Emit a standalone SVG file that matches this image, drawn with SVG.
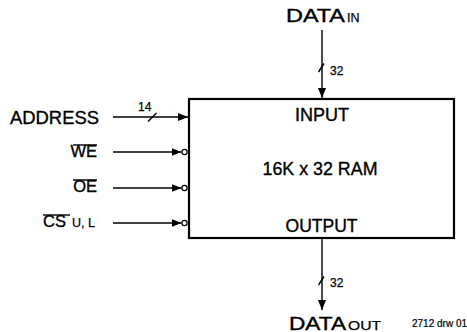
<svg xmlns="http://www.w3.org/2000/svg" width="467" height="332" viewBox="0 0 467 332">
<style>
text{font-family:"Liberation Sans",Arial,sans-serif;fill:#000;stroke:#000;stroke-width:0.35}
.big{font-size:17.5px}
.mid{font-size:16.5px}
.sm{font-size:12px;stroke-width:0.25}
.sub{font-size:12.5px;stroke-width:0.25}
.tiny{font-size:10px;stroke-width:0.2}
.ln{stroke:#000;stroke-width:1.4;fill:none}
.bub{stroke:#000;stroke-width:1.2;fill:#fff}
</style>
<defs>
<marker id="ah" viewBox="0 0 10 8" refX="10" refY="4" markerWidth="10" markerHeight="8" markerUnits="userSpaceOnUse" orient="auto">
<path d="M0,0 L10,4 L0,8 Z" fill="#000"/>
</marker>
</defs>
<g id="ram">
<rect x="189" y="99" width="265" height="139" fill="#fff" stroke="#000" stroke-width="2.2"/>
<text class="big" x="295" y="121" textLength="54" lengthAdjust="spacingAndGlyphs">INPUT</text>
<text class="big" x="262.5" y="175" textLength="115" lengthAdjust="spacingAndGlyphs">16K x 32 RAM</text>
<text class="big" x="321.5" y="232" text-anchor="middle">OUTPUT</text>
</g>
<g id="data-in">
<text class="big" x="286" y="22" textLength="59" lengthAdjust="spacingAndGlyphs">DATA</text>
<text class="sub" x="347" y="22">IN</text>
</g>
<g id="data-out">
<text class="big" x="289" y="329.5" textLength="57" lengthAdjust="spacingAndGlyphs">DATA</text>
<text class="sub" x="348" y="329.5" textLength="33" lengthAdjust="spacingAndGlyphs">OUT</text>
</g>
<g id="address">
<text class="big" x="10" y="124" textLength="89" lengthAdjust="spacingAndGlyphs">ADDRESS</text>
</g>
<g id="we">
<text class="mid" x="97" y="157" text-anchor="end">WE</text>
<line class="ln" x1="73" y1="145" x2="97" y2="145" stroke-width="1.2"/>
</g>
<g id="oe">
<text class="mid" x="97" y="192" text-anchor="end">OE</text>
<line class="ln" x1="73" y1="180" x2="97" y2="180" stroke-width="1.2"/>
</g>
<g id="cs">
<text class="mid" x="43" y="227">CS</text>
<text class="sub" x="72" y="227">U, L</text>
<line class="ln" x1="43" y1="215" x2="70" y2="215" stroke-width="1.2"/>
</g>
<g id="note">
<text class="tiny" x="412" y="327">2712 drw 01</text>
</g>
<g id="connectors">
<line class="ln" x1="113" y1="117" x2="188" y2="117" marker-end="url(#ah)"/>
<line class="ln" x1="148" y1="121.5" x2="156.5" y2="113"/>
<text class="sm" x="138" y="111">14</text>
<line class="ln" x1="113" y1="152" x2="181.5" y2="152" marker-end="url(#ah)"/>
<circle class="bub" cx="184.5" cy="152" r="2.6"/>
<line class="ln" x1="113" y1="188" x2="181.5" y2="188" marker-end="url(#ah)"/>
<circle class="bub" cx="184.5" cy="188" r="2.6"/>
<line class="ln" x1="113" y1="223" x2="181.5" y2="223" marker-end="url(#ah)"/>
<circle class="bub" cx="184.5" cy="223" r="2.6"/>
<line class="ln" x1="322" y1="30" x2="322" y2="98" marker-end="url(#ah)"/>
<line class="ln" x1="318.5" y1="72" x2="324" y2="63.5"/>
<text class="sm" x="330" y="75">32</text>
<line class="ln" x1="322" y1="239" x2="322" y2="310" marker-end="url(#ah)"/>
<line class="ln" x1="318.5" y1="285" x2="324" y2="276.5"/>
<text class="sm" x="330" y="287">32</text>
</g>
</svg>
